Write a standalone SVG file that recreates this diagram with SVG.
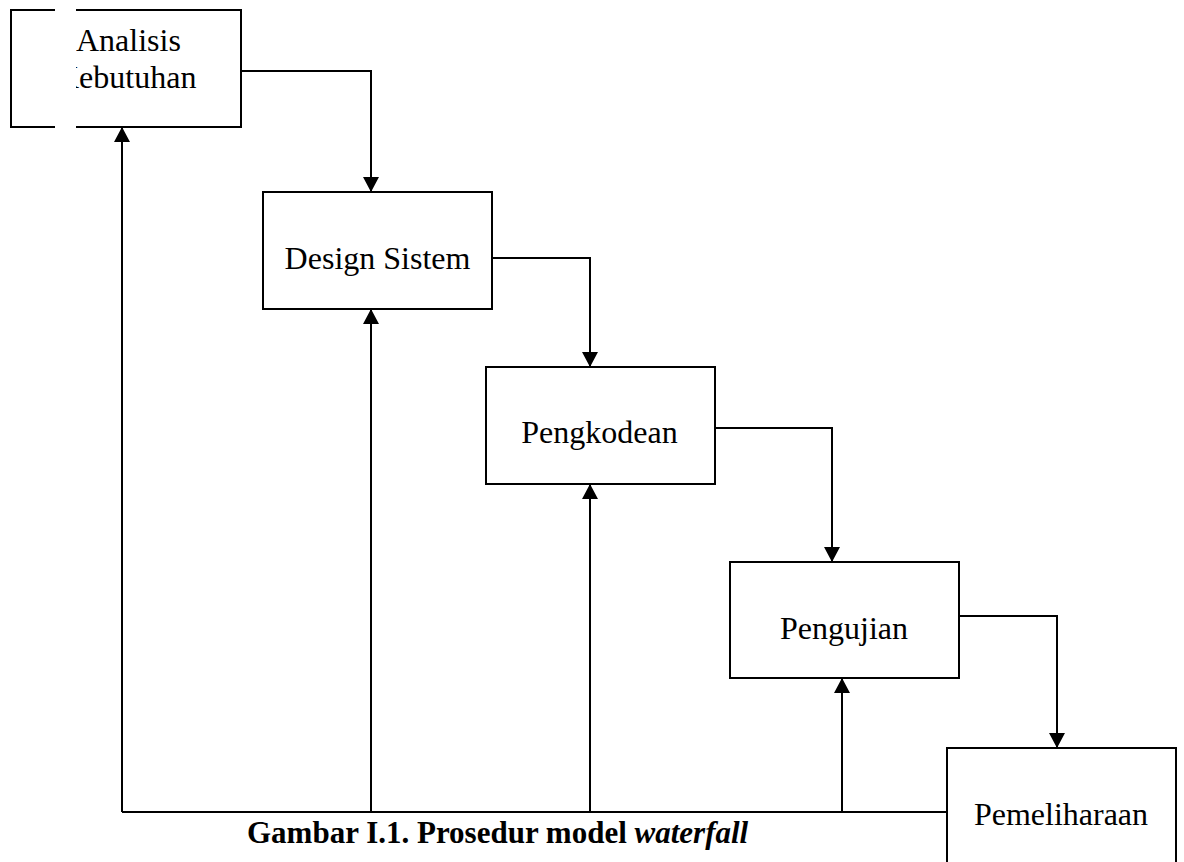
<svg xmlns="http://www.w3.org/2000/svg" width="1184" height="862" viewBox="0 0 1184 862">
<style>
.box{fill:#fff;stroke:#000;stroke-width:2}
.lbl{font-family:"Liberation Serif","Times New Roman",serif;font-size:32px;fill:#000}
.con{fill:none;stroke:#000;stroke-width:2}
.cap{font-family:"Liberation Serif","Times New Roman",serif;font-size:31px;font-weight:bold;fill:#000}
</style>
<defs>
<marker id="ah" viewBox="0 0 15 16" refX="15" refY="8" markerWidth="15" markerHeight="16" markerUnits="userSpaceOnUse" orient="auto">
<path d="M0,0 L15,8 L0,16 Z" fill="#000"/>
</marker>
</defs>
<g id="n1">
<rect class="box" x="11" y="10" width="230" height="117"/>
<text class="lbl" x="76" y="51">Analisis</text>
<text class="lbl" x="56" y="88">Kebutuhan</text>
<rect x="55" y="6" width="21" height="126" fill="#fff"/>
</g>
<g id="n2">
<rect class="box" x="263" y="192" width="229" height="117"/>
<text class="lbl" x="377.5" y="269" text-anchor="middle">Design Sistem</text>
</g>
<g id="n3">
<rect class="box" x="486" y="367" width="229" height="117"/>
<text class="lbl" x="599.5" y="443" text-anchor="middle">Pengkodean</text>
</g>
<g id="n4">
<rect class="box" x="730" y="562" width="229" height="116"/>
<text class="lbl" x="844" y="639" text-anchor="middle">Pengujian</text>
</g>
<g id="n5">
<rect class="box" x="947" y="748" width="229" height="130"/>
<text class="lbl" x="1061" y="825" text-anchor="middle">Pemeliharaan</text>
</g>
<g id="connectors">
<path class="con" d="M241,71 H371 V192" marker-end="url(#ah)"/>
<path class="con" d="M492,258 H590 V367" marker-end="url(#ah)"/>
<path class="con" d="M715,428 H832 V562" marker-end="url(#ah)"/>
<path class="con" d="M959,616 H1057 V748" marker-end="url(#ah)"/>
<path class="con" d="M947,812 H122"/>
<path class="con" d="M122,812 V127" marker-end="url(#ah)"/>
<path class="con" d="M371,812 V309" marker-end="url(#ah)"/>
<path class="con" d="M590,812 V484" marker-end="url(#ah)"/>
<path class="con" d="M842,812 V678" marker-end="url(#ah)"/>
</g>
<text class="cap" x="247" y="843">Gambar I.1. Prosedur model <tspan font-style="italic">waterfall</tspan></text>
</svg>
